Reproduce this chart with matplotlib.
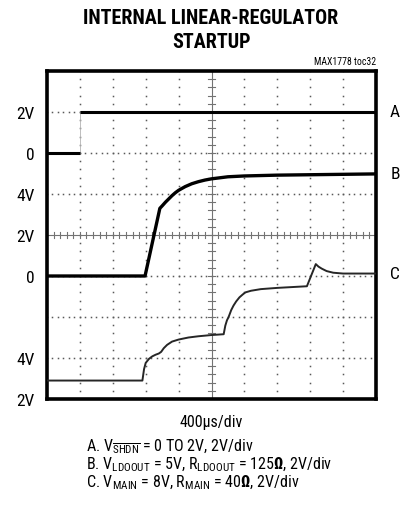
import numpy as np
import matplotlib
matplotlib.use("Agg")
import matplotlib.pyplot as plt

# ---- data (in divisions: x 0..10, y 0..8 from bottom) ----
a_low_x = [0.0, 1.0]
a_low_y = [6.0, 6.0]
a_high_x = [1.0, 10.0]
a_high_y = [7.0, 7.0]

b_x = [0.0, 2.98, 3.43, 3.5, 3.6, 3.7, 3.8, 3.9, 4.0, 4.2, 4.4, 4.6, 4.8, 5.0, 5.5, 6.0, 7.0, 8.0, 9.0, 10.0]
b_y = [3.0, 3.0, 4.65, 4.71, 4.80, 4.88, 4.96, 5.03, 5.09, 5.18, 5.25, 5.30, 5.34, 5.37, 5.42, 5.44, 5.46, 5.47, 5.48, 5.49]

c_x = [0.0, 2.9, 2.95, 3.0, 3.1, 3.2, 3.3, 3.4, 3.47, 3.55, 3.65, 3.8, 4.0, 4.3, 4.6, 5.0, 5.37,
       5.42, 5.47, 5.52, 5.6, 5.67, 5.75, 5.85, 5.95, 6.03, 6.2, 6.5, 7.0, 7.9,
       8.17, 8.25, 8.35, 8.5, 8.7, 9.0, 10.0]
c_y = [0.45, 0.45, 0.73, 0.88, 0.98, 1.04, 1.08, 1.11, 1.15, 1.24, 1.32, 1.40, 1.45, 1.50, 1.53, 1.56, 1.58,
       1.79, 1.92, 2.00, 2.17, 2.28, 2.38, 2.48, 2.55, 2.60, 2.64, 2.68, 2.71, 2.75,
       3.29, 3.23, 3.18, 3.12, 3.08, 3.06, 3.06]

ytick_pos = [7, 6, 5, 4, 3, 1, 0]
ytick_lab = ["2V", "0", "4V", "2V", "0", "4V", "2V"]
trace_labels = ["A", "B", "C"]
trace_label_y = [7.0, 5.5, 3.05]

legend_lines = [
    r"A. V$_{\overline{SHDN}}$ = 0 TO 2V, 2V/div",
    r"B. V$_{LDOOUT}$ = 5V, R$_{LDOOUT}$ = 125$\mathbf{\Omega}$, 2V/div",
    r"C. V$_{MAIN}$ = 8V, R$_{MAIN}$ = 40$\mathbf{\Omega}$, 2V/div",
]

FONT = ["Roboto Condensed", "DejaVu Sans"]
plt.rcParams["font.family"] = FONT
plt.rcParams["mathtext.default"] = "regular"
plt.rcParams["mathtext.fontset"] = "custom"
plt.rcParams["mathtext.rm"] = "Roboto Condensed"
plt.rcParams["mathtext.bf"] = "Roboto Condensed:bold"
plt.rcParams["mathtext.it"] = "Roboto Condensed"

W, H = 411, 510
fig = plt.figure(figsize=(W / 100, H / 100), dpi=100)
L, R, T, B = 47, 376, 72, 400
ax = fig.add_axes([L / W, 1 - B / H, (R - L) / W, (B - T) / H])
ax.set_xlim(0, 10)
ax.set_ylim(0, 8)

# grid dots
dotc = "0.35"
for gx in range(1, 10):
    if gx == 5:
        continue
    ys = np.arange(0, 8.001, 0.2)
    ax.plot(np.full_like(ys, gx), ys, ls="none", marker="s", ms=1.1, mew=0, color=dotc, zorder=1)
for gy in range(1, 8):
    if gy == 4:
        continue
    xs = np.arange(0, 10.001, 1 / 6)
    ax.plot(xs, np.full_like(xs, gy), ls="none", marker="s", ms=1.1, mew=0, color=dotc, zorder=1)

# center crosshair with minor ticks
ax.axvline(5, color="0.45", lw=0.8, zorder=1)
ax.axhline(4, color="0.45", lw=0.8, zorder=1)
for ty in np.arange(0, 8.001, 0.2):
    ax.plot([4.9, 5.1], [ty, ty], color="0.45", lw=0.8, zorder=1)
for tx in np.arange(0, 10.001, 0.2):
    ax.plot([tx, tx], [3.93, 4.07], color="0.45", lw=0.8, zorder=1)

# traces
ax.plot([1.0, 1.0], [6.0, 7.0], color="0.7", lw=0.6, zorder=2)
ax.plot(a_low_x, a_low_y, color="black", lw=2.2, zorder=3, solid_capstyle="butt")
ax.plot(a_high_x, a_high_y, color="black", lw=2.2, zorder=3, solid_capstyle="butt")
ax.plot(b_x, b_y, color="black", lw=2.4, zorder=3, solid_joinstyle="round")
ax.plot(c_x, c_y, color="0.15", lw=1.4, zorder=3, solid_joinstyle="round")

# frame
for s in ax.spines.values():
    s.set_linewidth(2.6)
    s.set_color("black")
ax.set_xticks([])
ax.set_yticks(ytick_pos)
ax.set_yticklabels(ytick_lab, fontsize=12.5)
ax.tick_params(axis="y", length=0, pad=9)

for lab, ly in zip(trace_labels, trace_label_y):
    ax.text(10.58, ly, lab, fontsize=12.5, ha="center", va="center", clip_on=False)

ax.text(5, -0.55, "400\u00b5s/div", fontsize=11.5, ha="center", va="center")

# titles
fig.text(211 / W, 1 - 19 / H, "INTERNAL LINEAR-REGULATOR", fontsize=14.5, fontweight="heavy",
         ha="center", va="center")
fig.text(211 / W, 1 - 43 / H, "STARTUP", fontsize=14.5, fontweight="heavy", ha="center", va="center")
fig.text(376 / W, 1 - 62 / H, "MAX1778 toc32", fontsize=7, ha="right", va="center")

for i, line in enumerate(legend_lines):
    fig.text(86 / W, 1 - (447 + 18 * i) / H, line, fontsize=11.5, ha="left", va="center")

fig.savefig("out.png", dpi=100)
